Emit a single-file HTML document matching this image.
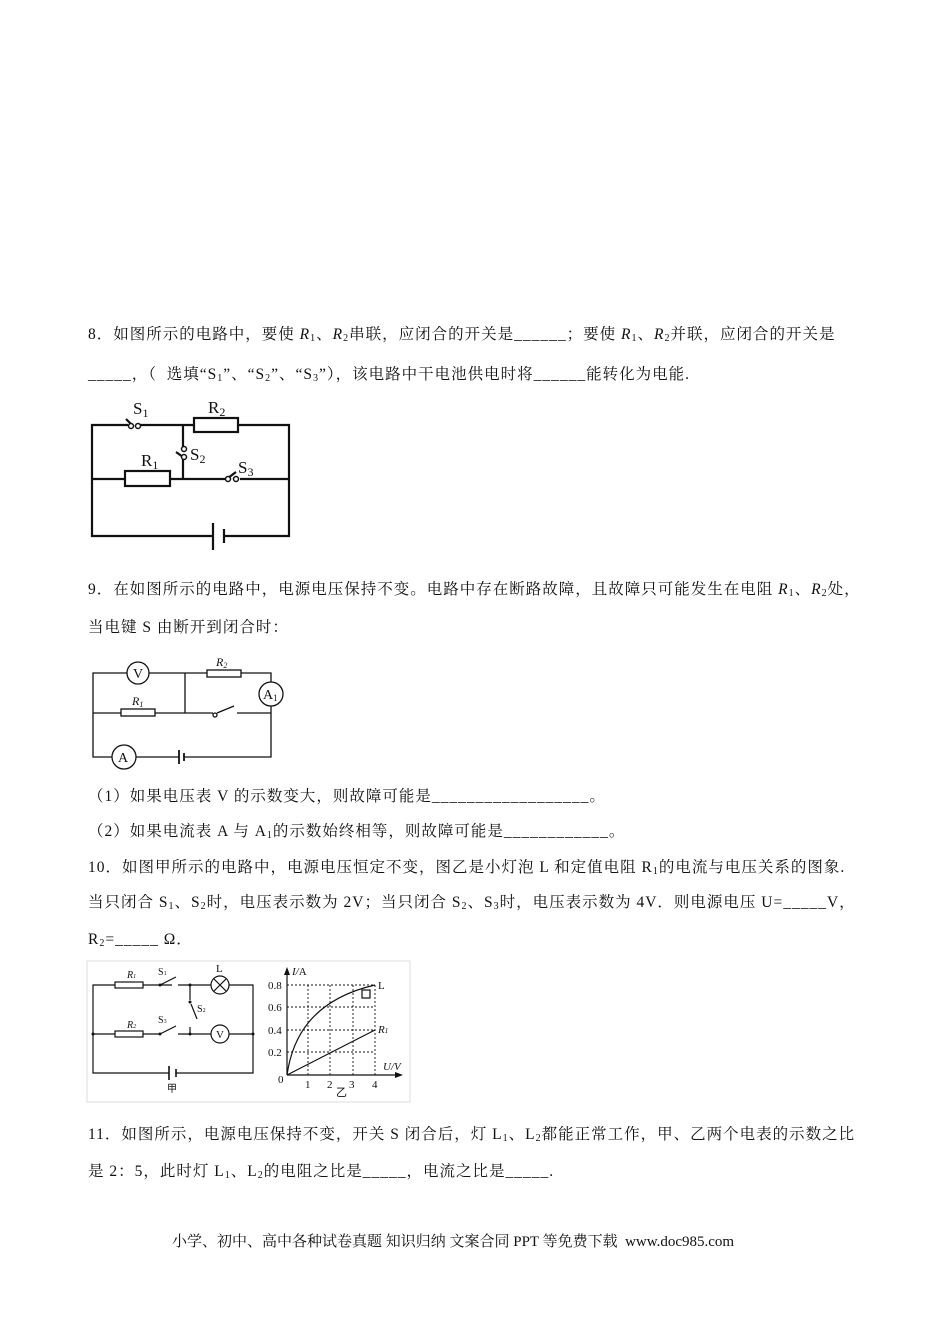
<!DOCTYPE html>
<html><head><meta charset="utf-8"><style>
body{margin:0;background:#fff;}
#p{position:relative;width:950px;height:1344px;overflow:hidden;font-family:"Liberation Serif","Noto Serif CJK SC",serif;font-size:15.5px;color:#111;}
.t{position:absolute;left:88px;white-space:nowrap;line-height:20px;letter-spacing:1px;}
sub{font-size:10px;vertical-align:-2px;}
svg{position:absolute;left:0;top:0;}
svg text{font-family:"Liberation Serif",serif;}
</style></head><body><div id="p">
<div class="t" style="top:325px">8．如图所示的电路中，要使 <i>R</i><sub>1</sub>、<i>R</i><sub>2</sub>串联，应闭合的开关是______；要使 <i>R</i><sub>1</sub>、<i>R</i><sub>2</sub>并联，应闭合的开关是</div>
<div class="t" style="top:365px">_____，（&nbsp; 选填“S<sub>1</sub>”、“S<sub>2</sub>”、“S<sub>3</sub>”），该电路中干电池供电时将______能转化为电能.</div>
<div class="t" style="top:580px">9．在如图所示的电路中，电源电压保持不变。电路中存在断路故障，且故障只可能发生在电阻 <i>R</i><sub>1</sub>、<i>R</i><sub>2</sub>处，</div>
<div class="t" style="top:618px">当电键 S 由断开到闭合时：</div>
<div class="t" style="top:787px">（1）如果电压表 V 的示数变大，则故障可能是__________________。</div>
<div class="t" style="top:822px">（2）如果电流表 A 与 A<sub>1</sub>的示数始终相等，则故障可能是____________。</div>
<div class="t" style="top:858px">10．如图甲所示的电路中，电源电压恒定不变，图乙是小灯泡 L 和定值电阻 R<sub>1</sub>的电流与电压关系的图象.</div>
<div class="t" style="top:893px">当只闭合 S<sub>1</sub>、S<sub>2</sub>时，电压表示数为 2V；当只闭合 S<sub>2</sub>、S<sub>3</sub>时，电压表示数为 4V．则电源电压 U=_____V，</div>
<div class="t" style="top:930px">R<sub>2</sub>=_____ Ω．</div>
<div class="t" style="top:1125px">11．如图所示，电源电压保持不变，开关 S 闭合后，灯 L<sub>1</sub>、L<sub>2</sub>都能正常工作，甲、乙两个电表的示数之比</div>
<div class="t" style="top:1162px">是 2：5，此时灯 L<sub>1</sub>、L<sub>2</sub>的电阻之比是_____，电流之比是_____.</div>
<div class="t" style="top:1232px;left:172px;font-size:15px;letter-spacing:0">小学、初中、高中各种试卷真题 知识归纳 文案合同 PPT 等免费下载&nbsp; www.doc985.com</div>

<svg width="950" height="1344" fill="none" stroke="#111">
<g stroke-width="2.2">
<path d="M128 425H92V536H213M224 536H289V425H238M194 425H140M183 425V447M183 459V479M92 479H125M170 479H226M240 479H289"/>
<rect x="194" y="418" width="44" height="14" fill="#fff"/>
<rect x="125" y="471" width="45" height="15" fill="#fff"/>
<path d="M213 523V550M224 529V543"/>
<path d="M126 419L132 425M176 452L183 457M228 478L236 472"/>
</g>
<g stroke-width="1.5" fill="#fff"><circle cx="131" cy="426" r="2.5"/><circle cx="138" cy="426" r="2.5"/><circle cx="184" cy="449" r="2.5"/><circle cx="184" cy="457" r="2.5"/><circle cx="228" cy="479" r="2.5"/><circle cx="236" cy="479" r="2.5"/></g>
<g fill="#111" stroke="none" font-size="17"><text x="133" y="414">S<tspan font-size="12" dy="3">1</tspan></text><text x="208" y="413">R<tspan font-size="12" dy="3">2</tspan></text><text x="141" y="466">R<tspan font-size="12" dy="3">1</tspan></text><text x="190" y="460">S<tspan font-size="12" dy="3">2</tspan></text><text x="238" y="473">S<tspan font-size="12" dy="3">3</tspan></text></g>

<g stroke-width="1.3">
<path d="M127 673H93V757H112M136 757H179M184 757H271V706M271 682V673H241M207 673H149M185 673V713M93 713H121M155 713H213M217 713L234 706M237 713H271"/>
<rect x="207" y="670" width="34" height="7" fill="#fff"/>
<rect x="121" y="709" width="34" height="7" fill="#fff"/>
<path d="M179 750V764M184 753V761" stroke-width="1.8"/>
<circle cx="138" cy="673" r="11" fill="#fff"/><circle cx="271" cy="694" r="12" fill="#fff"/><circle cx="124" cy="757" r="12" fill="#fff"/><circle cx="215" cy="715" r="2" fill="#fff"/>
</g>
<g fill="#111" stroke="none"><text x="133" y="678" font-size="14">V</text><text x="263" y="699" font-size="14">A<tspan font-size="9" dy="2">1</tspan></text><text x="118" y="762" font-size="14">A</text><text x="216" y="666" font-size="12" font-style="italic">R<tspan font-size="8" dy="2">2</tspan></text><text x="132" y="705" font-size="12" font-style="italic">R<tspan font-size="8" dy="2">1</tspan></text></g>

<rect x="87" y="961" width="323" height="141" stroke="#ddd" stroke-width="1"/>
<g stroke-width="1.2">
<path d="M115 985H93V1073H169M176 1073H253V985H229M211 985H178M172 985H143M160 985L176 977M190 985V1000M191 1004L197 1019M190 1034V1027M93 1034H115M143 1034H160M160 1034L176 1026M178 1034H211M229 1034H253"/>
<rect x="115" y="982" width="28" height="6" fill="#fff"/><rect x="115" y="1031" width="28" height="6" fill="#fff"/>
<path d="M169 1066V1080M176 1069V1077" stroke-width="1.6"/>
<circle cx="220" cy="985" r="9" fill="#fff"/><path d="M214 979L226 991M226 979L214 991"/>
<circle cx="220" cy="1034" r="9" fill="#fff"/>
</g>
<g fill="#111" stroke="none"><circle cx="93" cy="1034" r="1.5"/><circle cx="253" cy="1034" r="1.5"/><circle cx="190" cy="1034" r="1.5"/><circle cx="190" cy="985" r="1.5"/><circle cx="160" cy="985" r="1.5"/><circle cx="160" cy="1034" r="1.5"/><circle cx="190" cy="1002" r="1.5"/>
<text x="127" y="978" font-size="10" font-style="italic">R<tspan font-size="6">1</tspan></text><text x="127" y="1028" font-size="10" font-style="italic">R<tspan font-size="6">2</tspan></text>
<text x="158" y="975" font-size="10">S<tspan font-size="6">1</tspan></text><text x="158" y="1023" font-size="10">S<tspan font-size="6">3</tspan></text><text x="197" y="1012" font-size="10">S<tspan font-size="6">2</tspan></text>
<text x="216" y="972" font-size="11">L</text><text x="216" y="1038" font-size="11">V</text><text x="167" y="1092" font-size="10">甲</text></g>
<g stroke-width="0.9" stroke-dasharray="2,2">
<path d="M308 985V1075M330 985V1075M353 985V1075M375 985V1075M287 985H375M287 1007H375M287 1030H375M287 1052H375"/>
</g>
<g stroke-width="1.2">
<path d="M287 1075V973M287 1075H397"/>
<path d="M287 1075C292 1040 310 1000 375 985"/>
<path d="M287 1075L375 1030"/>
<rect x="362" y="990" width="8" height="8"/>
</g>
<g fill="#111" stroke="none"><path d="M287 967L284 975H290Z"/><path d="M403 1075L395 1072V1078Z"/>
<g font-size="11"><text x="268" y="989">0.8</text><text x="268" y="1011">0.6</text><text x="268" y="1034">0.4</text><text x="268" y="1056">0.2</text><text x="278" y="1083">0</text><text x="305" y="1088">1</text><text x="327" y="1088">2</text><text x="349" y="1088">3</text><text x="372" y="1088">4</text><text x="378" y="989">L</text><text x="378" y="1033" font-style="italic">R<tspan font-size="7">1</tspan></text><text x="292" y="975" font-style="italic">I/<tspan font-style="normal">A</tspan></text><text x="383" y="1070" font-style="italic">U/V</text><text x="336" y="1096" font-family="Noto Serif CJK SC">乙</text></g></g>
</svg>
</div></body></html>
